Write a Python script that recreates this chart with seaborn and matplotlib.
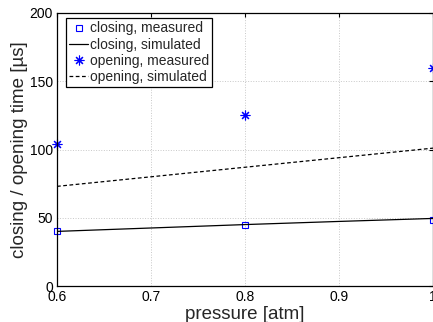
import numpy as np
import pandas as pd
import matplotlib
matplotlib.use("Agg")
import matplotlib.pyplot as plt
import seaborn as sns

# data
pressure_meas = [0.6, 0.8, 1.0]
closing_meas = [40.5, 45.0, 48.5]
opening_meas = [104.0, 125.0, 160.0]

pressure_sim = [0.6, 0.7, 0.8, 0.9, 1.0]
closing_sim = [40.0, 42.5, 45.0, 47.3, 49.5]
opening_sim = [73.0, 80.0, 87.0, 94.0, 101.0]

x_ticks = [0.6, 0.7, 0.8, 0.9, 1.0]
x_ticklabels = ["0.6", "0.7", "0.8", "0.9", "1"]
y_ticks = [0, 50, 100, 150, 200]

sns.set_style("white")
plt.rcParams["font.family"] = ["Liberation Sans", "DejaVu Sans"]

fig = plt.figure(figsize=(4.33, 3.22), dpi=100)
ax = fig.add_axes([57 / 433, 36 / 322, 376 / 433, 273 / 322])

sns.lineplot(x=pressure_meas, y=closing_meas, ax=ax, linestyle="none",
             marker="s", markersize=5, markerfacecolor="none",
             markeredgecolor="blue", markeredgewidth=0.8,
             label="closing, measured", clip_on=False)
sns.lineplot(x=pressure_sim, y=closing_sim, ax=ax, color="black",
             linewidth=0.9, label="closing, simulated")
sns.lineplot(x=pressure_meas, y=opening_meas, ax=ax, linestyle="none",
             marker=(8, 2, 0), markersize=7, markeredgecolor="blue",
             markeredgewidth=0.8, label="opening, measured", clip_on=False)
sns.lineplot(x=pressure_sim, y=opening_sim, ax=ax, color="black",
             linewidth=0.9, dashes=False, label="opening, simulated")
ax.lines[-1].set_dashes((3, 2))

ax.set_xlim(0.6, 1.0)
ax.set_ylim(0, 200)
ax.set_xticks(x_ticks)
ax.set_xticklabels(x_ticklabels)
ax.set_yticks(y_ticks)

ax.grid(True, linestyle=":", color="#c8c8c8", linewidth=0.7)
ax.tick_params(direction="in", length=3, width=0.8, labelsize=10,
               top=True, right=True, pad=3, colors="black")
for s in ax.spines.values():
    s.set_visible(True)
    s.set_color("black")
    s.set_linewidth(0.9)

ax.set_xlabel("pressure [atm]", fontsize=13.5, labelpad=1)
ax.set_ylabel("closing / opening time [\u00b5s]", fontsize=13.5, labelpad=1)

leg = ax.legend(loc="upper left", bbox_to_anchor=(9 / 376, 1 - 5 / 273),
                fontsize=10, frameon=True, fancybox=False, framealpha=1,
                handlelength=1.3, handletextpad=0.15, labelspacing=0.15,
                borderpad=0.25, borderaxespad=0)
leg.get_frame().set_edgecolor("black")
leg.get_frame().set_linewidth(0.9)

fig.savefig("out.png", dpi=100)
